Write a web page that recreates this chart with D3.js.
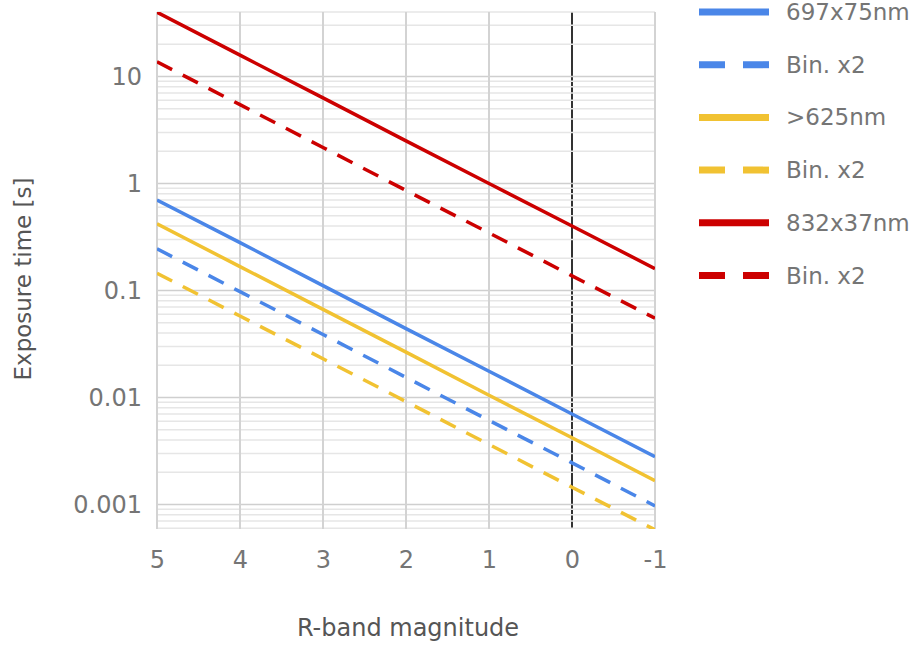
<!DOCTYPE html>
<html><head><meta charset="utf-8">
<script src="https://cdn.jsdelivr.net/npm/d3@7"></script>
<style>body{margin:0;background:#fff;} text{font-family:"DejaVu Sans",Verdana,sans-serif;}</style>
</head><body>
<svg id="chart" width="920" height="646"></svg>
<script>
const magnitudes = [5, 4, 3, 2, 1, 0, -1];
const blueSolid   = [0.70, 0.28, 0.111, 0.044, 0.0176, 0.0070, 0.0028];
const blueDashed  = [0.245, 0.0975, 0.0388, 0.0154, 0.0061, 0.00245, 0.00097];
const yellowSolid = [0.42, 0.167, 0.0665, 0.0265, 0.0105, 0.0042, 0.00167];
const yellowDashed= [0.145, 0.0577, 0.023, 0.00915, 0.00364, 0.00145, 0.00058];
const redSolid    = [39.8, 15.8, 6.3, 2.5, 1.0, 0.40, 0.16];
const redDashed   = [13.7, 5.45, 2.17, 0.86, 0.345, 0.137, 0.055];
const seriesNames = ["697x75nm", "Bin. x2", ">625nm", "Bin. x2", "832x37nm", "Bin. x2"];
const xTicks = [5, 4, 3, 2, 1, 0, -1];
const xTickLabels = ["5", "4", "3", "2", "1", "0", "-1"];
const yTicks = [0.001, 0.01, 0.1, 1, 10];
const yTickLabels = ["0.001", "0.01", "0.1", "1", "10"];
const xDomain = [5, -1];
const yDomain = [0.00059, 40];

const colors = ["#4a86e8", "#4a86e8", "#f1c232", "#f1c232", "#cc0000", "#cc0000"];
const dashed = [false, true, false, true, false, true];
const allValues = [blueSolid, blueDashed, yellowSolid, yellowDashed, redSolid, redDashed];

const svg = d3.select("#chart");
const L = 157, R = 655, T = 12, B = 529;
const x = d3.scaleLinear().domain(xDomain).range([L, R]);
const y = d3.scaleLog().domain(yDomain).range([B, T]);

svg.append("defs").append("clipPath").attr("id", "clip")
  .append("rect").attr("x", L).attr("y", T).attr("width", R - L).attr("height", B - T);

// zero line (below grid)
svg.append("line").attr("x1", x(0)).attr("x2", x(0)).attr("y1", T).attr("y2", B)
  .attr("stroke", "#333").attr("stroke-width", 2);

// minor gridlines
const minor = [];
for (let e = -4; e <= 1; e++) for (let k = 2; k <= 9; k++) {
  const v = k * Math.pow(10, e);
  if (v >= yDomain[0] && v <= yDomain[1]) minor.push(v);
}
svg.append("g").selectAll("line").data(minor).join("line")
  .attr("x1", L).attr("x2", R).attr("y1", d => y(d)).attr("y2", d => y(d))
  .attr("stroke", "#e6e6e6").attr("stroke-width", 1.5);
// major horizontal
svg.append("g").selectAll("line").data(yTicks).join("line")
  .attr("x1", L).attr("x2", R).attr("y1", d => y(d)).attr("y2", d => y(d))
  .attr("stroke", "#cfcfcf").attr("stroke-width", 1.5);
// vertical gridlines
svg.append("g").selectAll("line").data(xTicks.filter(d => d !== 0)).join("line")
  .attr("x1", d => x(d)).attr("x2", d => x(d)).attr("y1", T).attr("y2", B)
  .attr("stroke", "#d3d3d3").attr("stroke-width", 2);

// axes (labels only)
const xAxis = svg.append("g").attr("transform", `translate(0,${B})`)
  .call(d3.axisBottom(x).tickValues(xTicks).tickSize(0).tickPadding(22)
    .tickFormat((d, i) => xTickLabels[i]));
xAxis.select(".domain").remove();
xAxis.selectAll("text").attr("font-size", 24).attr("fill", "#757575")
  .attr("font-family", "DejaVu Sans, Verdana, sans-serif");

const yAxis = svg.append("g").attr("transform", `translate(${L},0)`)
  .call(d3.axisLeft(y).tickValues(yTicks).tickSize(0).tickPadding(15)
    .tickFormat((d, i) => yTickLabels[i]));
yAxis.select(".domain").remove();
yAxis.selectAll("text").attr("font-size", 24).attr("fill", "#757575")
  .attr("font-family", "DejaVu Sans, Verdana, sans-serif");

// data lines
const line = d3.line().x((d, i) => x(magnitudes[i])).y(d => y(d));
const g = svg.append("g").attr("clip-path", "url(#clip)");
allValues.forEach((vals, s) => {
  g.append("path").datum(vals).attr("d", line)
    .attr("fill", "none").attr("stroke", colors[s]).attr("stroke-width", 3.5)
    .attr("stroke-dasharray", dashed[s] ? "17,12" : null);
});

// axis titles
svg.append("text").attr("x", 408).attr("y", 636).attr("text-anchor", "middle")
  .attr("font-size", 24).attr("fill", "#555").text("R-band magnitude");
svg.append("text").attr("transform", "translate(31,279) rotate(-90)").attr("text-anchor", "middle")
  .attr("font-size", 23).attr("fill", "#555").text("Exposure time [s]");

// legend
const lg = svg.append("g");
seriesNames.forEach((name, i) => {
  const cy = 12 + i * 52.7;
  lg.append("line").attr("x1", 699).attr("x2", 769).attr("y1", cy).attr("y2", cy)
    .attr("stroke", colors[i]).attr("stroke-width", 7)
    .attr("stroke-dasharray", dashed[i] ? "26,18" : null);
  lg.append("text").attr("x", 786).attr("y", cy).attr("dy", "0.35em")
    .attr("font-size", 23).attr("fill", "#757575").text(name);
});
</script>
</body></html>
